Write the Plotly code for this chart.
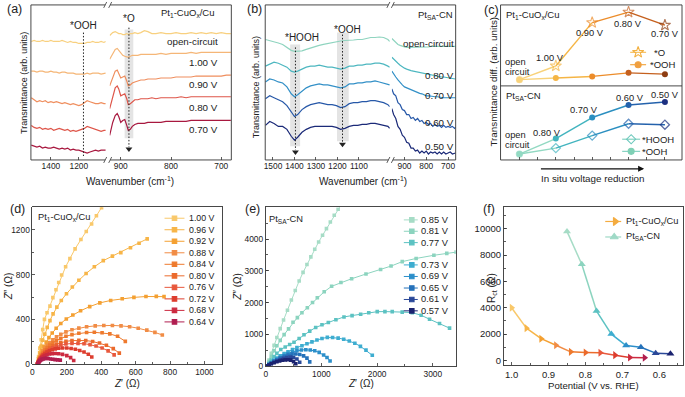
import plotly.graph_objects as go

W, H = 685, 397
FONT = 'Liberation Sans, Arial, Helvetica, sans-serif'
INK = '#222222'

# ===================== DATA =====================
# (a) Pt1-CuOx/Cu in situ spectra (arb. units), broken wavenumber axis
a_labels = ['open-circuit', '1.00 V', '0.90 V', '0.80 V', '0.70 V']
a_colors = ['#f8d07f', '#f5b677', '#ef8e5e', '#de5549', '#a8183f']
a_wn_left = [1540, 1520, 1500, 1480, 1460, 1440, 1420, 1400, 1380, 1360, 1340, 1320, 1300, 1280,
             1260, 1240, 1220, 1200, 1180, 1160, 1140, 1120, 1100, 1080, 1060, 1040, 1020, 1008]
a_oc_left = [120, 121, 120, 120, 121, 120, 120, 121, 120, 120, 120, 121, 120, 119, 120, 119, 119, 118,
             118, 118, 119, 119, 120, 119, 119, 120, 119, 120]
a_v100_left = [90, 90, 89, 90, 90, 89, 89, 90, 89, 89, 88, 89, 89, 88, 88, 88, 87, 87, 87, 87, 88, 87,
               88, 88, 88, 87, 88, 88]
a_v090_left = [63, 61, 59, 60, 59, 60, 58, 59, 58, 59, 58, 57, 58, 57, 56, 57, 56, 55, 56, 58, 60, 59,
               58, 57, 57, 58, 57, 57]
a_v080_left = [35, 33, 32, 33, 31, 32, 31, 32, 30, 31, 32, 31, 30, 31, 29, 30, 29, 30, 31, 32, 34, 33,
               32, 31, 30, 29, 30, 30]
a_v070_left = [15, 14, 13, 14, 12, 13, 12, 12, 13, 12, 11, 12, 11, 12, 10, 11, 10, 10, 9, 8, 7, 8, 9,
               10, 9, 10, 10, 10]
a_wn_right = [922, 916, 911, 907, 904, 900, 896, 892, 888, 885, 881, 877, 872, 866, 860, 853, 846, 838,
              830, 820, 810, 800, 790, 780, 770, 760, 750, 740, 730, 720, 710, 700, 690, 681]
a_oc_right = [126, 129, 130, 129, 128, 128, 127, 127, 128, 127, 128, 128, 129, 128, 129, 131, 130, 128,
              128, 129, 128, 128, 129, 128, 128, 129, 128, 129, 128, 129, 128, 129, 128, 128]
a_v100_right = [102, 108, 112, 113, 111, 108, 106, 105, 104, 104, 105, 106, 106, 106, 107, 107, 107, 107,
                107, 108, 107, 108, 108, 108, 108, 109, 108, 109, 109, 109, 109, 109, 109, 109]
a_v090_right = [75, 84, 90, 91, 88, 83, 84, 85, 80, 75, 76, 78, 79, 80, 81, 81, 82, 82, 82, 83, 83, 83,
                84, 84, 84, 84, 85, 85, 85, 85, 85, 85, 86, 86]
a_v080_right = [52, 64, 73, 75, 72, 65, 66, 67, 62, 56, 57, 59, 61, 61, 62, 62, 62, 63, 62, 63, 63, 63,
                63, 64, 63, 64, 64, 64, 64, 64, 64, 64, 64, 64]
a_v070_right = [25, 38, 45, 47, 44, 38, 40, 41, 35, 30, 31, 34, 36, 37, 37, 37, 38, 38, 38, 38, 39, 39,
                39, 39, 39, 40, 40, 40, 40, 40, 40, 40, 40, 40]

# (b) PtSA-CN in situ spectra (arb. units)
b_labels = ['open-circuit', '0.80 V', '0.70 V', '0.60 V', '0.50 V']
b_colors = ['#8fd4bf', '#4db7c0', '#3390c7', '#2758a8', '#1b2a78']
b_wn_left = [1535, 1515, 1495, 1475, 1455, 1435, 1415, 1400, 1385, 1365, 1345, 1325, 1305, 1285, 1265,
             1245, 1225, 1205, 1185, 1165, 1145, 1125, 1105, 1085, 1065, 1045, 1025, 1005, 985, 965, 957]
b_oc_left = [122, 121, 120, 118.5, 117, 114, 111, 110, 110, 110.5, 112, 113.5, 115, 116, 117, 118, 119,
             120, 120.5, 121, 121, 121.5, 122, 122, 123, 124, 124, 124.5, 124, 122, 120]
b_v080_left = [95, 97, 99, 98, 96, 94, 90, 89, 90, 92, 94, 95, 95, 96, 95, 94, 94, 93, 92, 93, 95, 95,
               96, 96, 97, 97, 98, 98, 97, 95, 94]
b_v070_left = [79, 82, 81, 79, 78, 74, 67, 64, 66, 70, 73, 75, 76, 77, 76, 76, 75, 74, 73, 74, 77, 77,
               78, 78, 79, 79, 80, 79, 78, 77, 76]
b_v060_left = [62, 65, 63, 61, 59, 55, 48, 44, 46, 51, 54, 56, 57, 58, 57, 56, 56, 55, 53, 54, 57, 58,
               58, 59, 59, 60, 60, 59, 58, 56, 54]
b_v050_left = [35, 39, 37, 34, 34, 31, 24, 20, 23, 28, 31, 33, 34, 34, 34, 34, 34, 33, 31, 32, 34, 35,
               35, 36, 36, 37, 37, 36, 35, 34, 32]
b_wn_right = [958, 950, 940, 930, 920, 910, 900, 890, 880, 870, 860, 850, 840, 830, 820, 810, 800, 790,
              780, 770, 760, 750, 740, 730, 720, 710, 700, 690, 680, 670, 666]
b_oc_right = [123, 121, 119, 117, 116, 115, 114.5, 114, 114, 114, 114, 114, 114.5, 114.5, 114, 114,
              114.5, 114.5, 115, 115, 115, 115, 115, 115, 115, 115, 115, 115, 115, 115, 115]
b_v080_right = [104, 102, 100, 98, 96, 94, 93, 92, 91, 90.5, 90, 89.5, 89, 88.5, 88, 87.5, 87, 86.5, 86,
                86, 85.5, 85, 84.5, 84, 84, 83.5, 83, 83, 82.5, 82, 82]
b_v070_right = [90, 87, 84, 81, 78, 76, 74, 73, 72, 71, 70, 69, 68, 67.5, 67, 66, 65, 65, 64.5, 64, 64,
                64, 63.5, 63.5, 63, 63, 63, 63, 63, 63, 63]
b_v060_right = [72, 67, 65, 58, 56, 51, 50, 46, 46, 42, 43, 40, 42, 39, 40, 37, 38, 36, 37, 34, 36, 34,
                35, 33, 35, 33, 34, 33, 34, 32, 33]
b_v050_right = [52, 46, 42, 34, 31, 25, 23, 18, 17, 12, 12, 9, 10, 7, 9, 7, 9, 6, 8, 7, 8, 6, 8, 6, 8,
                6, 7, 8, 6, 7, 7]

# (c) transmittance difference vs. stage
c_stages_cu = ['open circuit', '1.00 V', '0.90 V', '0.80 V', '0.70 V']
c_stages_cn = ['open circuit', '0.80 V', '0.70 V', '0.60 V', '0.50 V']
c_cu_O = [0.77, 2.46, 7.82, 9.11, 7.5]
c_cu_OOH = [0.77, 0.97, 1.17, 1.61, 1.45]
c_cn_OOH = [0.8, 2.89, 5.73, 7.42, 7.82]
c_cn_HOOH = [0.8, 1.6, 3.29, 4.89, 4.76]
c_cu_colors = ['#f8d27a', '#f5b545', '#ec8c2a', '#c5601e', '#8e3d12']
c_cn_colors = ['#92d9c2', '#42b4bf', '#2b8fc0', '#2462ac', '#1c2f80']

# (d) Nyquist, Pt1-CuOx/Cu
d_voltages = ['1.00 V', '0.96 V', '0.92 V', '0.88 V', '0.84 V', '0.80 V', '0.76 V', '0.72 V', '0.68 V', '0.64 V']
d_colors = ['#f9c86a', '#f7b548', '#f4a032', '#f18c45', '#ee7a2e', '#eb6a2c', '#e8583c', '#dd3d2e', '#cc2a40', '#b01e50']
d_100_zr = [30, 36, 43, 51, 60, 70, 85, 102, 119, 137, 153, 170, 193, 218, 248, 282, 313, 344, 372, 402, 425]
d_100_zi = [0, 70, 145, 220, 310, 401, 460, 519, 595, 665, 730, 797, 870, 943, 1030, 1113, 1185, 1251, 1325, 1398, 1450]
d_096_zr = [30, 35, 42, 50, 60, 72, 86, 102, 120, 142, 168, 198, 232, 270, 312, 360, 412, 465, 514, 570, 620, 667]
d_096_zi = [0, 50, 105, 160, 215, 270, 330, 390, 450, 510, 570, 630, 690, 750, 810, 870, 925, 965, 996, 1040, 1080, 1119]
d_092_zr = [30, 34, 40, 47, 56, 67, 80, 96, 115, 138, 165, 197, 235, 280, 333, 392, 455, 522, 590, 660, 720, 765]
d_092_zi = [0, 28, 58, 90, 125, 160, 198, 238, 280, 322, 365, 405, 440, 478, 515, 548, 570, 585, 597, 605, 606, 604]
d_088_zr = [30, 34, 39, 45, 53, 62, 73, 86, 101, 119, 140, 165, 195, 230, 270, 315, 365, 415, 465, 515, 565, 615, 665, 712, 755]
d_088_zi = [0, 22, 45, 70, 95, 120, 145, 170, 195, 220, 245, 268, 290, 308, 323, 335, 343, 347, 347, 343, 336, 322, 305, 285, 262]
d_084_zr = [30, 34, 39, 45, 53, 62, 73, 86, 101, 119, 140, 165, 195, 230, 270, 315, 360, 405, 450, 495, 540]
d_084_zi = [0, 20, 40, 62, 84, 106, 128, 150, 172, 193, 213, 232, 250, 265, 277, 284, 286, 282, 272, 250, 205]
d_080_zr = [30, 34, 39, 45, 53, 62, 73, 86, 101, 119, 140, 165, 195, 230, 270, 310, 350, 390, 430, 470, 505]
d_080_zi = [0, 18, 36, 55, 74, 93, 112, 130, 148, 165, 180, 194, 205, 212, 215, 212, 204, 190, 170, 140, 100]
d_076_zr = [30, 34, 39, 45, 53, 62, 73, 86, 101, 119, 140, 165, 195, 230, 265, 300, 335, 370, 405, 440, 475]
d_076_zi = [0, 16, 32, 49, 66, 83, 100, 116, 132, 147, 160, 172, 181, 186, 187, 184, 176, 164, 146, 120, 85]
d_072_zr = [30, 33, 37, 42, 48, 55, 63, 73, 85, 99, 115, 133, 153, 175, 200, 225, 250, 275, 300, 325, 345]
d_072_zi = [0, 14, 28, 42, 56, 70, 84, 97, 109, 120, 130, 138, 143, 146, 146, 142, 135, 124, 110, 90, 65]
d_068_zr = [30, 33, 37, 42, 48, 55, 63, 73, 85, 99, 115, 133, 153, 175, 200, 222, 240]
d_068_zi = [0, 12, 24, 36, 48, 59, 69, 78, 86, 92, 96, 97, 95, 89, 78, 60, 35]
d_064_zr = [30, 33, 37, 42, 48, 55, 63, 72, 82, 93, 105, 118, 132, 147, 162]
d_064_zi = [0, 10, 20, 29, 37, 44, 49, 52, 53, 52, 48, 45, 42, 40, 38]

# (e) Nyquist, PtSA-CN
e_voltages = ['0.85 V', '0.81 V', '0.77 V', '0.73 V', '0.69 V', '0.65 V', '0.61 V', '0.57 V']
e_colors = ['#a6dcc6', '#8cd4bf', '#5cc2c2', '#3eadd0', '#2c8fca', '#2672ba', '#2a4898', '#1b2370']
e_085_zr = [30, 60, 100, 150, 200, 260, 320, 390, 460, 530, 600, 670, 740, 810, 880, 950, 1020, 1090, 1160, 1230, 1300, 1360]
e_085_zi = [0, 190, 400, 650, 900, 1180, 1450, 1760, 2080, 2380, 2680, 2950, 3200, 3440, 3680, 3910, 4120, 4330, 4540, 4750, 4940, 5100]
e_081_zr = [30, 60, 100, 150, 200, 260, 330, 410, 490, 568, 650, 747, 840, 926, 1050, 1183, 1350, 1542, 1800, 2062, 2250, 2451, 2700, 3019, 3250, 3420]
e_081_zi = [0, 140, 300, 480, 640, 810, 990, 1170, 1380, 1526, 1680, 1838, 2000, 2150, 2340, 2513, 2630, 2750, 2900, 3040, 3150, 3290, 3390, 3490, 3550, 3590]
e_077_zr = [30, 60, 100, 150, 200, 270, 350, 430, 508, 600, 687, 790, 897, 1010, 1124, 1260, 1405, 1550, 1704, 1850, 2002, 2140, 2271, 2450, 2630, 2790, 2941, 3120, 3300]
e_077_zi = [0, 90, 190, 300, 400, 520, 600, 680, 750, 870, 986, 1100, 1215, 1300, 1371, 1460, 1547, 1590, 1630, 1680, 1713, 1715, 1713, 1700, 1682, 1600, 1475, 1340, 1194]
e_073_zr = [30, 60, 100, 150, 200, 260, 330, 400, 480, 560, 650, 740, 830, 920, 1010, 1106, 1200, 1300, 1400, 1500, 1600, 1700, 1800, 1913]
e_073_zi = [0, 60, 120, 190, 250, 320, 390, 450, 520, 580, 640, 700, 760, 820, 870, 903, 900, 880, 845, 790, 720, 620, 500, 340]
e_069_zr = [30, 60, 100, 150, 200, 260, 330, 400, 480, 560, 640, 720, 800, 880, 960, 1040, 1100, 1155]
e_069_zi = [0, 50, 100, 160, 210, 270, 330, 390, 440, 480, 505, 515, 505, 480, 430, 350, 270, 160]
e_065_zr = [30, 60, 100, 150, 200, 260, 330, 400, 470, 540, 610, 680, 740, 790]
e_065_zi = [0, 45, 95, 150, 200, 255, 310, 350, 375, 380, 365, 320, 250, 130]
e_061_zr = [30, 60, 100, 150, 200, 260, 320, 380, 440, 500, 560, 610]
e_061_zi = [0, 40, 80, 125, 165, 205, 240, 265, 280, 270, 220, 120]
e_057_zr = [30, 60, 100, 150, 200, 250, 300, 350, 400, 450, 500, 540]
e_057_zi = [0, 35, 70, 105, 135, 160, 180, 195, 200, 185, 140, 70]

# (f) charge-transfer resistance
f_pot_cu = [1.00, 0.96, 0.92, 0.88, 0.84, 0.80, 0.76, 0.72, 0.68, 0.64]
f_rct_cu = [4000, 2450, 1650, 1150, 650, 600, 580, 400, 220, 200]
f_pot_cn = [0.85, 0.81, 0.77, 0.73, 0.69, 0.65, 0.61, 0.57]
f_rct_cn = [9800, 7300, 3750, 2000, 1125, 1000, 550, 500]

# ===================== FIGURE =====================
fig = go.Figure()
shapes, anns = [], []


def xd(a, b):
    return [a / W, b / W]


def yd(top, bot):
    return [1 - bot / H, 1 - top / H]


def trace(x, y, xa, ya, color, width=1.1, mode='lines', marker=None, dash=None):
    line = dict(color=color, width=width)
    if dash:
        line['dash'] = dash
    kw = dict(x=x, y=y, xaxis=xa, yaxis=ya, mode=mode, hoverinfo='skip', showlegend=False, line=line)
    if marker is not None:
        kw['marker'] = marker
    fig.add_trace(go.Scatter(**kw))


def pline(x0, y0, x1, y1, color='#333333', width=0.9, layer='above'):
    shapes.append(dict(type='line', xref='paper', yref='paper', x0=x0 / W, y0=1 - y0 / H,
                       x1=x1 / W, y1=1 - y1 / H, line=dict(color=color, width=width), layer=layer))


def prect(x0, y0, x1, y1, fill=None, color='#333333', width=0.9, layer='above'):
    d = dict(type='rect', xref='paper', yref='paper', x0=x0 / W, y0=1 - y1 / H, x1=x1 / W,
             y1=1 - y0 / H, layer=layer)
    if fill:
        d['fillcolor'] = fill
        d['line'] = dict(width=0)
    else:
        d['line'] = dict(color=color, width=width)
        d['fillcolor'] = 'rgba(0,0,0,0)'
    shapes.append(d)


def txt(x, y, s, size=9.5, xanchor='center', angle=0, color=INK):
    anns.append(dict(x=x, y=y, xref='x9', yref='y8', text=s, showarrow=False, xanchor=xanchor,
                     yanchor='middle', textangle=angle, borderpad=0, borderwidth=0,
                     font=dict(size=size, color=color, family=FONT)))


# ---- (a)
for vals, c in zip([a_oc_left, a_v100_left, a_v090_left, a_v080_left, a_v070_left], a_colors):
    trace(a_wn_left, vals, 'x', 'y', c, 1.2)
for vals, c in zip([a_oc_right, a_v100_right, a_v090_right, a_v080_right, a_v070_right], a_colors):
    trace(a_wn_right, vals, 'x2', 'y', c, 1.2)

# ---- (b)
for vals, c in zip([b_oc_left, b_v080_left, b_v070_left, b_v060_left, b_v050_left], b_colors):
    trace(b_wn_left, vals, 'x3', 'y2', c, 1.2)
for vals, c in zip([b_oc_right, b_v080_right, b_v070_right, b_v060_right, b_v050_right], b_colors):
    trace(b_wn_right, vals, 'x4', 'y2', c, 1.2)

# ---- (c)
c_x = list(range(len(c_stages_cu)))
for i in range(len(c_x) - 1):
    trace(c_x[i:i + 2], c_cu_O[i:i + 2], 'x5', 'y3', c_cu_colors[i], 1.4)
    trace(c_x[i:i + 2], c_cu_OOH[i:i + 2], 'x5', 'y3', c_cu_colors[i], 1.4)
    trace(c_x[i:i + 2], c_cn_HOOH[i:i + 2], 'x5', 'y4', c_cn_colors[i], 1.4)
    trace(c_x[i:i + 2], c_cn_OOH[i:i + 2], 'x5', 'y4', c_cn_colors[i], 1.4)
n = len(c_x)
trace(c_x, c_cu_O, 'x5', 'y3', c_cu_colors[0], mode='markers',
      marker=dict(symbol=['circle'] + ['star-open'] * (n - 1), size=[6] + [8.5] * (n - 1),
                  color=c_cu_colors, line=dict(color=c_cu_colors, width=1.1)))
trace(c_x, c_cu_OOH, 'x5', 'y3', c_cu_colors[0], mode='markers',
      marker=dict(symbol='circle', size=6, color=c_cu_colors))
trace(c_x, c_cn_HOOH, 'x5', 'y4', c_cn_colors[0], mode='markers',
      marker=dict(symbol=['circle'] + ['diamond-open'] * (n - 1), size=[6] + [7] * (n - 1),
                  color=c_cn_colors, line=dict(color=c_cn_colors, width=1.3)))
trace(c_x, c_cn_OOH, 'x5', 'y4', c_cn_colors[0], mode='markers',
      marker=dict(symbol='circle', size=6, color=c_cn_colors))

# ---- (d)
d_series = [(d_100_zr, d_100_zi), (d_096_zr, d_096_zi), (d_092_zr, d_092_zi), (d_088_zr, d_088_zi),
            (d_084_zr, d_084_zi), (d_080_zr, d_080_zi), (d_076_zr, d_076_zi), (d_072_zr, d_072_zi),
            (d_068_zr, d_068_zi), (d_064_zr, d_064_zi)]
for (zr, zi), c in zip(d_series, d_colors):
    trace(zr, zi, 'x6', 'y5', c, 1.0, mode='lines+markers', marker=dict(symbol='square', size=3.6, color=c))

# ---- (e)
e_series = [(e_085_zr, e_085_zi), (e_081_zr, e_081_zi), (e_077_zr, e_077_zi), (e_073_zr, e_073_zi),
            (e_069_zr, e_069_zi), (e_065_zr, e_065_zi), (e_061_zr, e_061_zi), (e_057_zr, e_057_zi)]
for (zr, zi), c in zip(e_series, e_colors):
    trace(zr, zi, 'x7', 'y6', c, 1.0, mode='lines+markers', marker=dict(symbol='square', size=3.6, color=c))

# ---- (f)
for i in range(len(f_pot_cu) - 1):
    trace(f_pot_cu[i:i + 2], f_rct_cu[i:i + 2], 'x8', 'y7', d_colors[i], 1.5)
for i in range(len(f_pot_cn) - 1):
    trace(f_pot_cn[i:i + 2], f_rct_cn[i:i + 2], 'x8', 'y7', e_colors[i], 1.5)
trace(f_pot_cu, f_rct_cu, 'x8', 'y7', d_colors[0], mode='markers',
      marker=dict(symbol='triangle-right', size=7, color=d_colors))
trace(f_pot_cn, f_rct_cn, 'x8', 'y7', e_colors[0], mode='markers',
      marker=dict(symbol='triangle-up', size=7, color=e_colors))

# ===================== DECORATION (overlay in pixel space) =====================
prect(123, 30, 131.7, 140, fill='#e4e4e4', layer='below')
prect(289, 45, 299, 148, fill='#e4e4e4', layer='below')
prect(336, 33, 347.7, 143, fill='#e4e4e4', layer='below')

for gx, gy0, gy1, head in [(81.7, 33, 158, False), (127.3, 28, 149, True),
                           (294.3, 48, 152, True), (341.5, 35, 144, True)]:
    trace([gx, gx], [gy0, gy1], 'x9', 'y8', '#222222', 1.0, dash='1.5px,1.8px')
    if head:
        trace([gx], [gy1 + 2], 'x9', 'y8', '#222222', mode='markers',
              marker=dict(symbol='triangle-down', size=6, color='#222222'))

for L, R, g0, g1 in [(29, 230, 103.5, 108.5), (264, 455, 387.5, 392)]:
    pline(L, 5, L, 162)
    pline(R, 5, R, 162)
    for yy in (5, 162):
        pline(L, yy, g0, yy)
        pline(g1, yy, R, yy)
        pline(g0 - 1.5, yy + 3, g0 + 1.5, yy - 3, width=0.8)
        pline(g1 - 1.5, yy + 3, g1 + 1.5, yy - 3, width=0.8)
prect(500, 5, 682, 162)
pline(500, 87, 682, 87)


def legend_sample(x0, x1, xm, y, color, symbol, size, mcolor=None, lw=1.2):
    trace([x0, x1], [y, y], 'x9', 'y8', color, lw)
    trace([xm], [y], 'x9', 'y8', color, mode='markers',
          marker=dict(symbol=symbol, size=size, color=mcolor or color,
                      line=dict(color=mcolor or color, width=1.1)))


legend_sample(630, 646, 638, 53, '#f6c060', 'star-open', 8.5, '#f3b040')
txt(654, 53, '*O', size=9.5, xanchor='left')
legend_sample(630, 646, 638, 65.5, '#f2a845', 'circle', 6, '#f0a040')
txt(650, 65.5, '*OOH', size=9.5, xanchor='left')
legend_sample(622, 640, 631, 141, '#86d2c2', 'diamond-open', 7, '#6cc8bc')
txt(642, 141, '*HOOH', size=9.5, xanchor='left')
legend_sample(622, 640, 631, 153.3, '#86d2c2', 'circle', 6, '#7fd0b5')
txt(642, 153.3, '*OOH', size=9.5, xanchor='left')

for i, (lab, c) in enumerate(zip(d_voltages, d_colors)):
    yy = 221 + i * 11.67
    legend_sample(163, 183, 173, yy, c, 'square', 4.5, lw=1.0)
    txt(188, yy, lab, size=8.8, xanchor='left')

e_leg_y = [222.7, 234.2, 245.7, 268.3, 280, 291.7, 303.3, 314.8]
for yy, lab, c in zip(e_leg_y, e_voltages, e_colors):
    legend_sample(403, 417, 411, yy, c, 'square', 4.5, lw=1.0)
    txt(420, yy, lab, size=9.3, xanchor='left')

legend_sample(605, 621, 615, 224.3, '#f4ac40', 'triangle-right', 7)
txt(626, 224.3, 'Pt<sub>1</sub>-CuO<sub>x</sub>/Cu', size=9.3, xanchor='left')
legend_sample(605, 621, 614, 240, '#9fd9c6', 'triangle-up', 7)
txt(626, 240, 'Pt<sub>SA</sub>-CN', size=9.3, xanchor='left')

for s, x, y in [('(a)', 13, 9), ('(b)', 253, 9), ('(c)', 491, 10), ('(d)', 16, 212),
                ('(e)', 251, 212), ('(f)', 488, 212)]:
    txt(x, y, s, size=12.5)

txt(22, 84, 'Transmittance (arb. units)', size=9, angle=-90)
txt(255, 88, 'Transmittance (arb. units)', size=9, angle=-90)
txt(493, 83, 'Transmittance diff. (arb. units)', size=9.8, angle=-90)
txt(6, 290, '<i>Z</i>″ (Ω)', size=10, angle=-90)
txt(236, 290, '<i>Z</i>″ (Ω)', size=10, angle=-90)
txt(492, 292, 'R<sub>ct</sub> (Ω)', size=10, angle=-90)
txt(128, 183, 'Wavenumber (cm<sup>-1</sup>)', size=10)
txt(362, 183, 'Wavenumber (cm<sup>-1</sup>)', size=10)
txt(592, 181, 'In situ voltage reduction', size=9.8)
txt(125, 388, '<i>Z</i>′ (Ω)', size=10)
txt(360, 388, '<i>Z</i>′ (Ω)', size=10)
txt(593, 390, 'Potential (V vs. RHE)', size=9.6)

txt(214, 13, 'Pt<sub>1</sub>-CuO<sub>x</sub>/Cu', size=9.5, xanchor='right')
txt(81.7, 26, '*OOH', size=10)
txt(127.3, 19, '*O', size=10)
for lab, yy in zip(a_labels, [41.7, 63, 86, 108.5, 131]):
    txt(217, yy, lab, size=9.8, xanchor='right')
txt(452, 15, 'Pt<sub>SA</sub>-CN', size=9.5, xanchor='right')
txt(301, 38, '*HOOH', size=10)
txt(346.7, 30, '*OOH', size=10)
for lab, yy in zip(b_labels, [44, 76, 97, 124, 148]):
    txt(453, yy, lab, size=9.8, xanchor='right')
txt(505, 15, 'Pt<sub>1</sub>-CuO<sub>x</sub>/Cu', size=9.5, xanchor='left')
txt(504, 62.3, 'open', size=9.3, xanchor='left')
txt(504, 72.7, 'circuit', size=9.3, xanchor='left')
for lab, (xx, yy) in zip(c_stages_cu[1:], [(550, 58.3), (590, 33.3), (628, 24), (665, 34.3)]):
    txt(xx, yy, lab, size=9.3)
txt(505, 97.5, 'Pt<sub>SA</sub>-CN', size=9.5, xanchor='left')
txt(504, 136.7, 'open', size=9.3, xanchor='left')
txt(504, 147.3, 'circuit', size=9.3, xanchor='left')
for lab, (xx, yy) in zip(c_stages_cn[1:], [(546.7, 135), (583.3, 111), (630, 99.3), (665, 96.7)]):
    txt(xx, yy, lab, size=9.3)
anns.append(dict(x=644, y=171, ax=539, ay=171, xref='x9', yref='y8', axref='x9', ayref='y8',
                 text='', showarrow=True, arrowhead=2, arrowsize=1, arrowwidth=1.2, arrowcolor='#111111'))
txt(36, 220, 'Pt<sub>1</sub>-CuO<sub>x</sub>/Cu', size=9.3, xanchor='left')
txt(268, 222.5, 'Pt<sub>SA</sub>-CN', size=9.3, xanchor='left')

# ===================== AXES =====================
tf_small = dict(size=8.4, color=INK, family=FONT)
tf_f = dict(size=9.5, color=INK, family=FONT)
base = dict(showgrid=False, zeroline=False, ticks='inside', ticklen=3, tickcolor='#333333',
            tickwidth=0.8, tickfont=tf_small, fixedrange=True, autorange=False, tickangle=0)
hidden_y = dict(showgrid=False, zeroline=False, showticklabels=False, ticks='', showline=False,
                fixedrange=True, autorange=False)
framed = dict(showline=True, mirror=True, linecolor='#333333', linewidth=0.9)
mn = lambda d: dict(dtick=d, ticks='inside', ticklen=2, tickcolor='#333333')

layout_axes = dict(
    xaxis=dict(base, domain=xd(29, 105), range=[1543, 1000], anchor='y', tickvals=[1400, 1200]),
    xaxis2=dict(base, domain=xd(108, 230), range=[922, 680], anchor='y', tickvals=[900, 800, 700]),
    yaxis=dict(hidden_y, domain=yd(5, 162), range=[0, 157], anchor='x'),
    xaxis3=dict(base, domain=xd(264, 389), range=[1536, 956], anchor='y2',
                tickvals=[1500, 1400, 1300, 1200, 1100]),
    xaxis4=dict(base, domain=xd(391, 455), range=[958, 665], anchor='y2', tickvals=[900, 800, 700]),
    yaxis2=dict(hidden_y, domain=yd(5, 162), range=[0, 157], anchor='x3'),
    xaxis5=dict(base, domain=xd(500, 682), range=[-0.52, 4.47], anchor='y4', tick0=0, dtick=0.5,
                showticklabels=False),
    yaxis3=dict(hidden_y, domain=yd(5, 87), range=[0, 10], anchor='x5'),
    yaxis4=dict(hidden_y, domain=yd(87, 162), range=[0, 10], anchor='x5'),
    xaxis6=dict(base, **framed, domain=xd(30.5, 221), range=[0, 1104], anchor='y5', dtick=200, minor=mn(100)),
    yaxis5=dict(base, **framed, domain=yd(210, 369), range=[0, 1400], anchor='x6', dtick=400, minor=mn(200)),
    xaxis7=dict(base, **framed, domain=xd(264.5, 455), range=[0, 3410], anchor='y6', dtick=1000, minor=mn(500)),
    yaxis6=dict(base, **framed, domain=yd(210, 370.7), range=[0, 5000], anchor='x7',
                tickvals=[0, 1000, 2000, 3000, 4000], minor=mn(500)),
    xaxis8=dict(base, **framed, domain=xd(503.3, 683), range=[1.021, 0.536], anchor='y7', dtick=0.1,
                tickformat='.1f', tickfont=tf_f, minor=mn(0.05)),
    yaxis7=dict(base, **framed, domain=yd(210, 370), range=[-375, 11625], anchor='x8',
                tickvals=[0, 2000, 4000, 6000, 8000, 10000], tickformat='d', tickfont=tf_f, minor=mn(1000)),
    xaxis9=dict(visible=False, domain=[0, 1], range=[0, W], anchor='y8', fixedrange=True, autorange=False),
    yaxis8=dict(visible=False, domain=[0, 1], range=[H, 0], anchor='x9', fixedrange=True, autorange=False),
)

fig.update_layout(width=W, height=H, margin=dict(l=0, r=0, t=0, b=0), paper_bgcolor='white',
                  plot_bgcolor='rgba(0,0,0,0)', showlegend=False, hovermode=False,
                  font=dict(family=FONT, size=9, color=INK), shapes=shapes, annotations=anns,
                  **layout_axes)

fig.write_html('out.html', config={'displayModeBar': False, 'staticPlot': True},
               post_script="document.body.style.margin='0px';document.body.style.overflow='hidden';")
